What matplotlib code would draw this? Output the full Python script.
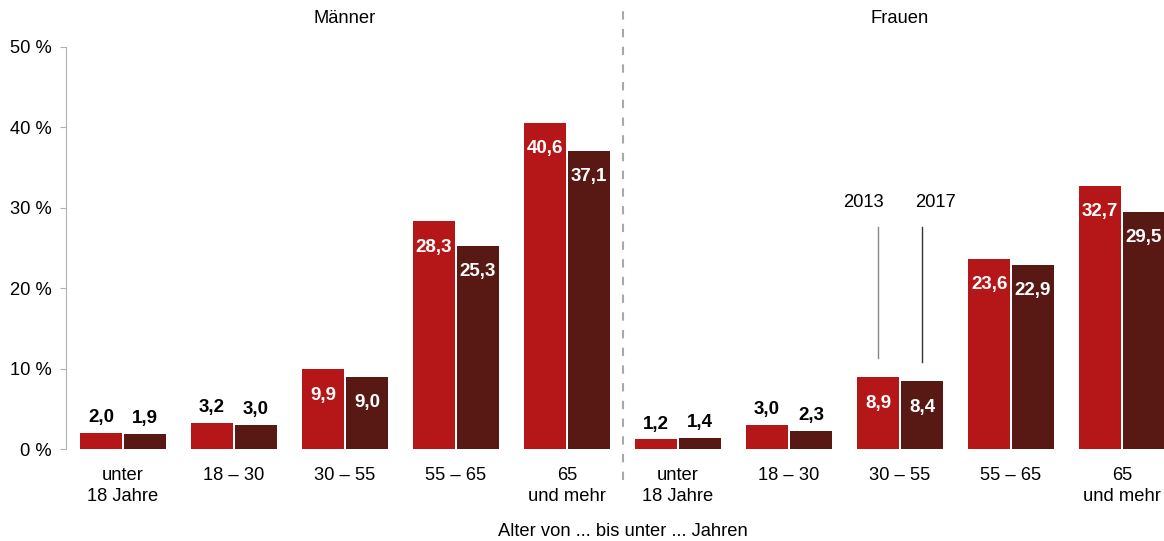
import matplotlib
matplotlib.use("Agg")
import matplotlib.pyplot as plt
import numpy as np

plt.rcParams["font.family"] = ["Liberation Sans", "DejaVu Sans"]

# data
groups = ["Männer", "Frauen"]
age_labels = ["unter\n18 Jahre", "18 – 30", "30 – 55", "55 – 65", "65\nund mehr"]
years = ["2013", "2017"]
men_2013 = [2.0, 3.2, 9.9, 28.3, 40.6]
men_2017 = [1.9, 3.0, 9.0, 25.3, 37.1]
women_2013 = [1.2, 3.0, 8.9, 23.6, 32.7]
women_2017 = [1.4, 2.3, 8.4, 22.9, 29.5]
y_ticks = [0, 10, 20, 30, 40, 50]

RED = "#b51718"
DARK = "#581915"
FS = 13.2

vals_2013 = men_2013 + women_2013
vals_2017 = men_2017 + women_2017
x = np.arange(len(vals_2013))
w = 0.38
off = 0.198

fig = plt.figure(figsize=(11.64, 5.41), dpi=100)
ax = fig.add_axes([66 / 1164, 92 / 541, 1 - 66 / 1164, 402 / 541])

b1 = ax.bar(x - off, vals_2013, width=w, color=RED)
b2 = ax.bar(x + off, vals_2017, width=w, color=DARK)


def fmt(v):
    return f"{v:.1f}".replace(".", ",")


for bars in (b1, b2):
    for rect in bars:
        v = rect.get_height()
        cx = rect.get_x() + rect.get_width() / 2
        if v > 5:
            ax.annotate(fmt(v), (cx, v), xytext=(0, -18.5), textcoords="offset points",
                        ha="center", va="center", color="white", fontsize=13.5, weight="bold")
        else:
            ax.annotate(fmt(v), (cx, v), xytext=(0, 11), textcoords="offset points",
                        ha="center", va="center", color="black", fontsize=13.5, weight="bold")

ax.set_xlim(-0.514, 9.378)
ax.set_ylim(0, 50)
ax.set_yticks(y_ticks)
ax.set_yticklabels([f"{t} %" for t in y_ticks], fontsize=FS)
ax.set_xticks(x)
ax.set_xticklabels(age_labels * 2, fontsize=FS, linespacing=1.3)
ax.tick_params(axis="x", length=0, pad=13)
ax.tick_params(axis="y", length=4, color="#b0b0b0", pad=6)

for s in ("top", "right", "bottom"):
    ax.spines[s].set_visible(False)
ax.spines["left"].set_color("#b0b0b0")

# separator between Männer and Frauen
ax.axvline(4.5, ymin=-0.077, ymax=1.109, clip_on=False, color="#a8a8a8",
           lw=1.5, dashes=(4, 4.5))

# group headers
for i, g in enumerate(groups):
    ax.text(2 + 5 * i, 1.072, g, transform=ax.get_xaxis_transform(),
            ha="center", va="center", fontsize=FS)

# year callouts on Frauen 30 – 55
ax.plot([7 - off, 7 - off], [11.3, 27.6], color="#888888", lw=1)
ax.plot([7 + off, 7 + off], [10.8, 27.6], color="#333333", lw=1)
ax.text(7 - off - 0.13, 30.6, years[0], ha="center", va="center", fontsize=FS)
ax.text(7 + off + 0.12, 30.6, years[1], ha="center", va="center", fontsize=FS)

fig.text(623 / 1164, 1 - 532 / 541, "Alter von ... bis unter ... Jahren",
         ha="center", va="center", fontsize=FS)

fig.savefig("out.png", dpi=100)
